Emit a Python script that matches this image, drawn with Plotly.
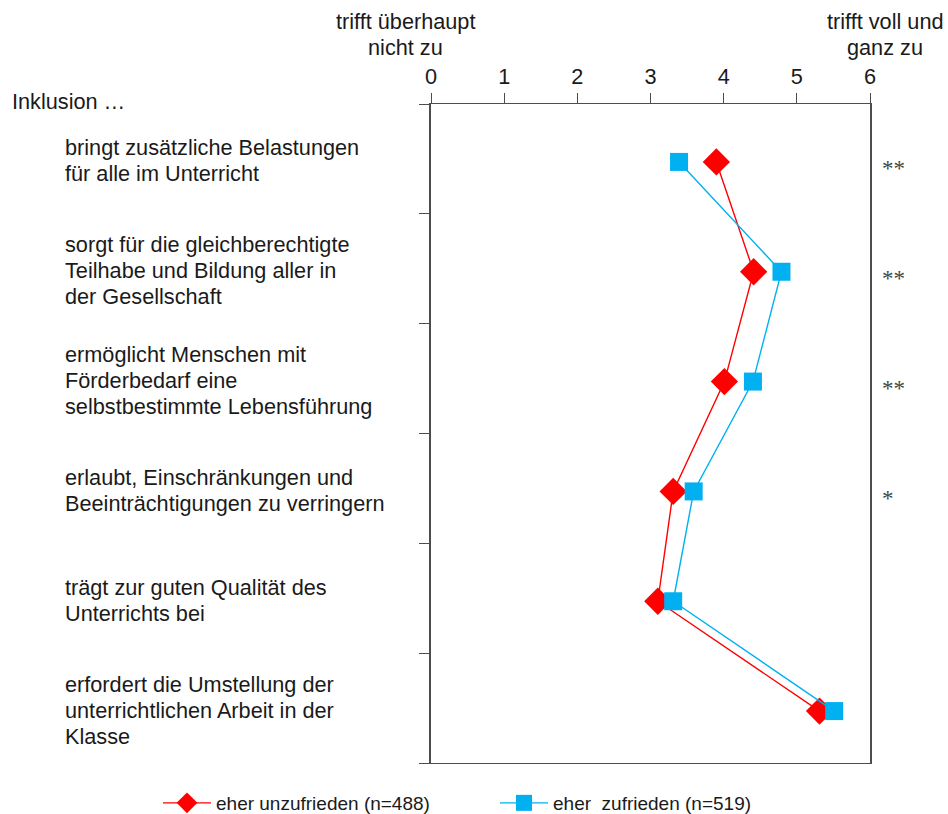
import plotly.graph_objects as go

# Statements (each entry: the lines of the wrapped label)
statements = [
    ["bringt zusätzliche Belastungen", "für alle im Unterricht"],
    ["sorgt für die gleichberechtigte", "Teilhabe und Bildung aller in", "der Gesellschaft"],
    ["ermöglicht Menschen mit", "Förderbedarf eine", "selbstbestimmte Lebensführung"],
    ["erlaubt, Einschränkungen und", "Beeinträchtigungen zu verringern"],
    ["trägt zur guten Qualität des", "Unterrichts bei"],
    ["erfordert die Umstellung der", "unterrichtlichen Arbeit in der", "Klasse"],
]

# Mean agreement per group (0 = trifft überhaupt nicht zu, 6 = trifft voll und ganz zu)
unzufrieden = [3.90, 4.41, 4.01, 3.31, 3.10, 5.31]
zufrieden = [3.39, 4.79, 4.40, 3.59, 3.31, 5.51]
significance = ["**", "**", "**", "*", "", ""]

x_ticks = [0, 1, 2, 3, 4, 5, 6]
name_unzufrieden = "eher unzufrieden (n=488)"
name_zufrieden = "eher\u00a0 zufrieden (n=519)"

RED = "#FF0000"
BLUE = "#00B0F0"
FONT = "Liberation Sans, Arial, sans-serif"
TEXT = "#1a1a1a"
AXIS = "#4d4d4d"
LABEL_SIZE = 21.7

# Plot area geometry (pixels) used to place the surrounding text
W, H = 948, 814
L, R, T, B = 431, 78, 104, 51
pw, ph = W - L - R, H - T - B
band = ph / len(statements)

# markers sit a few pixels below the middle of each band
row_pos = [i + 3 / band for i in range(len(statements))]

fig = go.Figure()
fig.add_trace(go.Scatter(
    x=unzufrieden, y=row_pos, name=name_unzufrieden, mode="lines+markers",
    line=dict(color=RED, width=1.4),
    marker=dict(symbol="diamond", size=21, color=RED),
))
fig.add_trace(go.Scatter(
    x=zufrieden, y=row_pos, name=name_zufrieden, mode="lines+markers",
    line=dict(color=BLUE, width=1.4),
    marker=dict(symbol="square", size=18, color=BLUE),
))


def px_x(px):
    return (px - L) / pw


def px_y(py):
    return (H - B - py) / ph


annotations = []
line_gap = 26
for i, lines in enumerate(statements):
    centre = T + band * (i + 0.5)
    first = centre + 2 - line_gap * (len(lines) - 1) / 2
    for j, txt in enumerate(lines):
        annotations.append(dict(
            text=txt, xref="paper", yref="paper",
            x=px_x(63), y=px_y(first + j * line_gap),
            xanchor="left", yanchor="middle", showarrow=False,
            font=dict(family=FONT, size=LABEL_SIZE, color=TEXT),
        ))
    if significance[i]:
        annotations.append(dict(
            text=significance[i], xref="paper", yref="paper",
            x=px_x(880), y=px_y(centre + 10),
            xanchor="left", yanchor="middle", showarrow=False,
            font=dict(family="Liberation Serif, Times New Roman, serif", size=23, color="#444444"),
        ))

header_lines = [
    ("trifft überhaupt", 405, 22), ("nicht zu", 405, 47),
    ("trifft voll und", 885, 22), ("ganz zu", 885, 47),
]
for txt, cx, cy in header_lines:
    annotations.append(dict(
        text=txt, xref="paper", yref="paper", x=px_x(cx), y=px_y(cy),
        xanchor="center", yanchor="middle", showarrow=False,
        font=dict(family=FONT, size=LABEL_SIZE, color=TEXT),
    ))

annotations.append(dict(
    text="Inklusion …", xref="paper", yref="paper", x=px_x(10), y=px_y(101),
    xanchor="left", yanchor="middle", showarrow=False,
    font=dict(family=FONT, size=LABEL_SIZE, color=TEXT),
))

fig.update_layout(
    width=W, height=H,
    margin=dict(l=L, r=R, t=T, b=B, pad=0, autoexpand=False),
    paper_bgcolor="white", plot_bgcolor="white",
    annotations=annotations,
    showlegend=True,
    legend=dict(
        orientation="h", x=px_x(158), y=px_y(803),
        xanchor="left", yanchor="middle",
        font=dict(family=FONT, size=19, color=TEXT),
        itemwidth=48,
        entrywidth=274, entrywidthmode="pixels",
        bgcolor="rgba(0,0,0,0)",
    ),
    xaxis=dict(
        side="top", range=[0, 6], tickvals=x_ticks, ticktext=[str(v) for v in x_ticks],
        ticks="outside", ticklen=10, tickwidth=1.2, tickcolor=AXIS,
        showline=True, linecolor=AXIS, linewidth=1.4, mirror=True,
        showgrid=False, zeroline=False,
        tickfont=dict(family=FONT, size=LABEL_SIZE, color=TEXT),
    ),
    yaxis=dict(
        range=[len(statements) - 0.5, -0.5],
        tickvals=[k - 0.5 for k in range(len(statements) + 1)],
        ticks="outside", ticklen=10, tickwidth=1.2, tickcolor=AXIS,
        showticklabels=False,
        showline=True, linecolor=AXIS, linewidth=1.6, mirror=True,
        showgrid=False, zeroline=False,
    ),
)

fig.write_html("out.html")
